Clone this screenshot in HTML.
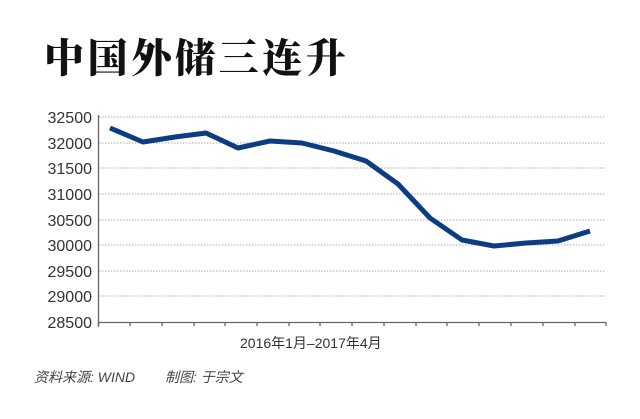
<!DOCTYPE html>
<html><head><meta charset="utf-8"><style>
body{margin:0;background:#fff;width:640px;height:414px;overflow:hidden}
</style></head><body>
<svg width="640" height="414" xmlns="http://www.w3.org/2000/svg">
<text x="44" y="72" font-family="'Noto Serif CJK SC',serif" font-weight="900" font-size="40" fill="#111" textLength="302" lengthAdjust="spacing">中国外储三连升</text>
<g stroke="#aaa" stroke-width="1" stroke-dasharray="1.5,1.5">
<line x1="99" y1="117" x2="606" y2="117"/><line x1="99" y1="143" x2="606" y2="143"/>
<line x1="99" y1="168" x2="606" y2="168"/><line x1="99" y1="194" x2="606" y2="194"/>
<line x1="99" y1="220" x2="606" y2="220"/><line x1="99" y1="245" x2="606" y2="245"/>
<line x1="99" y1="271" x2="606" y2="271"/><line x1="99" y1="296" x2="606" y2="296"/>
</g>
<g stroke="#666" stroke-width="1.3" fill="none">
<line x1="98.5" y1="115" x2="98.5" y2="326"/>
<line x1="98" y1="322.5" x2="606" y2="322.5"/>
<path d="M98.5 322v5M130 322v4M162 322v4M194 322v4M225 322v4M257 322v4M289 322v4M320 322v4M352 322v4M384 322v4M416 322v4M447 322v4M479 322v4M511 322v4M543 322v4M575 322v4M606 322v4"/>
</g>
<g font-family="'Liberation Sans',sans-serif" font-size="16" fill="#333" text-anchor="end">
<text x="92" y="123">32500</text><text x="92" y="149">32000</text><text x="92" y="174">31500</text>
<text x="92" y="200">31000</text><text x="92" y="226">30500</text><text x="92" y="251">30000</text>
<text x="92" y="277">29500</text><text x="92" y="302">29000</text><text x="92" y="328">28500</text>
</g>
<polyline fill="none" stroke="#0c3c82" stroke-width="5" stroke-linejoin="round" points="110,128 143,142 175,137 206,133 238,148 270,141 302,143 334,151 366,161 398,184 430,218 462,240 494,246 526,243 558,241 590,231"/>
<text x="240" y="348" font-family="'Liberation Sans','Noto Sans CJK SC',sans-serif" font-size="14" fill="#333">2016年1月–2017年4月</text>
<text x="34" y="382" font-family="'Liberation Sans','Noto Sans CJK SC',sans-serif" font-size="14" font-style="italic" fill="#444">资料来源: WIND</text>
<text x="165" y="382" font-family="'Liberation Sans','Noto Sans CJK SC',sans-serif" font-size="14" font-style="italic" fill="#444">制图: 于宗文</text>
</svg>
</body></html>
